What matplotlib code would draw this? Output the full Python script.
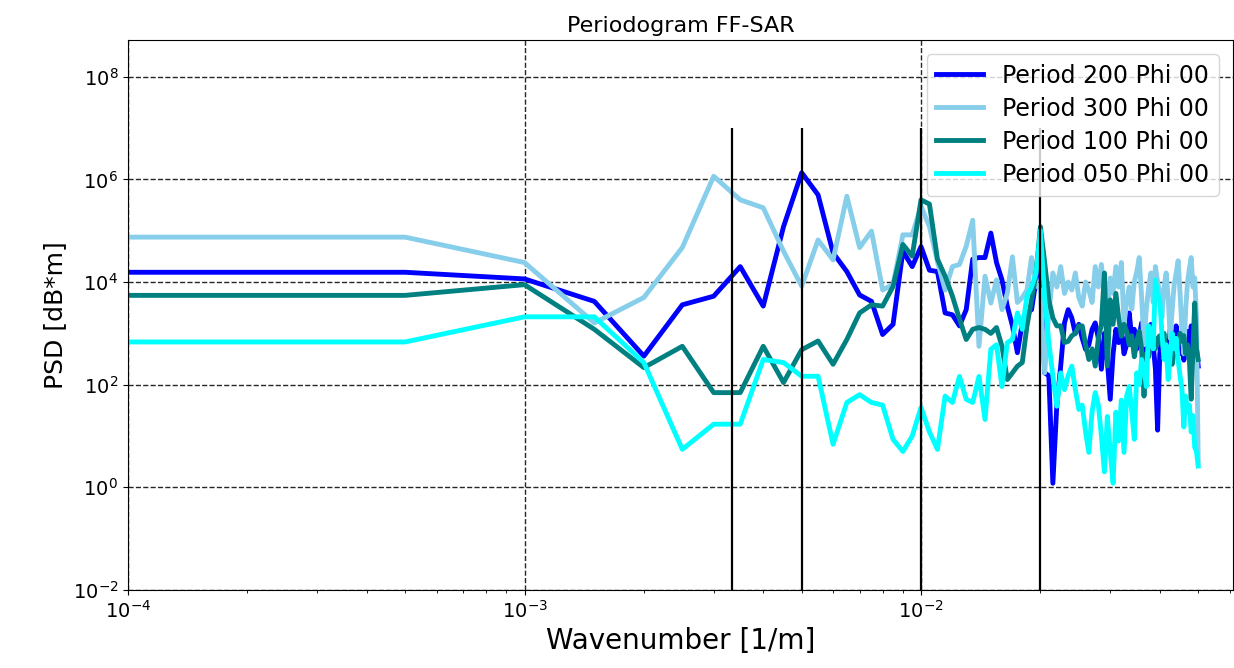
import numpy as np
import matplotlib
matplotlib.use('Agg')
import matplotlib.pyplot as plt
from matplotlib.ticker import NullLocator

# wavenumber axis: 0 ... 0.05 1/m, step 5e-4 (k=0 is the DC bin)
k = np.arange(101) * 0.0005

psd_200 = [1.5e4, 1.55e4, 1.15e4, 4.2e3, 3.6e2, 3.6e3, 5.3e3, 2.0e4, 3.4e3, 1.2e5,
           1.35e6, 5.0e5, 3.7e4, 1.6e4, 5.6e3, 4.2e3, 9.5e2, 1.5e3, 4.0e4, 2.0e4,
           4.9e4, 1.7e4, 1.6e4, 2.5e3, 2.3e3, 1.4e3, 2.9e3, 2.8e4, 3.0e4, 3.0e4,
           9.0e4, 2.4e4, 1.1e4, 3.4e3, 1.4e3, 4.2e2, 1.6e3, 2.5e3, 2.9e3, 1.1e4,
           5.0e4, 1.7e2, 1.5e2, 1.2, 40, 2.3e2, 1.6e3, 2.9e3, 2.0e3, 1.0e3,
           1.5e3, 8e2, 4.9e2, 6e2, 1.2e3, 1.6e3, 8e2, 2e2, 1.0e3, 3e2,
           52, 4e2, 1.2e3, 6.6e2, 1.2e3, 4e2, 6e2, 2.5e3, 8e2, 1.2e3,
           5e2, 9e2, 1.6e3, 7e2, 3e2, 8e2, 1.5e3, 6e2, 2e2, 13,
           4e2, 9e2, 7e2, 3e2, 5e2, 1.2e3, 9e2, 5e2, 1.4e3, 7e2,
           4e2, 8e2, 3e2, 6e2, 1.1e3, 4e2, 1.4e3, 8e2, 3e2, 5e2,
           2.3e2]

psd_300 = [7.3e4, 7.5e4, 2.4e4, 1.6e3, 5.0e3, 4.7e4, 1.15e6, 4.0e5, 2.8e5, 4.0e4,
           8.3e3, 6.6e4, 2.7e4, 4.7e5, 4.7e4, 9.8e4, 7e3, 9e3, 8.3e4, 8.3e4,
           3.0e5, 1.2e5, 2.5e4, 7e3, 2.0e4, 2.2e4, 5.0e4, 1.6e5, 5.6e2, 1.3e4,
           3.9e3, 1.1e4, 2.9e3, 6e3, 3.1e4, 4e3, 5e3, 7e3, 3.0e4, 9e3,
           7e3, 1.7e2, 2.5e3, 1.5e4, 8e3, 2.0e4, 6e3, 1.0e4, 7e3, 1.5e4,
           5e3, 3.4e3, 1.0e4, 7e3, 4e3, 2.0e4, 8e3, 2.2e4, 5e3, 3e3,
           1.2e4, 6e3, 2.0e4, 8e3, 2.4e4, 1.5e3, 4e3, 8e3, 3e3, 1.0e4,
           1.6e4, 3.0e4, 5e3, 6e2, 3e3, 8e3, 1.5e4, 4e3, 2.0e4, 1.0e4,
           6e3, 2e3, 8e3, 1.5e4, 5e3, 8e2, 3e3, 9e3, 1.5e4, 2.6e4,
           6e3, 1.2e3, 4e2, 3e3, 1.0e4, 1.8e4, 3.0e4, 8e3, 1.2e4, 2e3,
           3]

psd_100 = [5.4e3, 5.5e3, 8.9e3, 1.2e3, 2.15e2, 5.6e2, 70, 70, 5.6e2, 1.1e2,
           4.8e2, 7.1e2, 2.5e2, 7.6e2, 2.5e3, 3.6e3, 3.4e3, 8.2e3, 5.4e4, 3.2e4,
           4e5, 3.3e5, 2.8e4, 1.3e4, 5.3e3, 1.9e3, 7.6e2, 1.2e3, 1.3e3, 1.2e3,
           1.0e3, 1.3e3, 5.6e2, 1.26e2, 1.7e2, 2.3e2, 2.7e2, 1.4e3, 4.5e3, 1.5e4,
           1.2e5, 2.4e4, 4.5e3, 2e3, 1.4e3, 1.4e3, 6.6e2, 7e2, 9e2, 1.0e3,
           1.4e3, 1.4e3, 6e2, 3.1e2, 5e2, 2.3e2, 8e2, 1.5e3, 1.5e4, 2.3e2,
           4.5e3, 1.5e3, 6e3, 2e3, 8.8e2, 1.5e3, 1.1e3, 6e2, 9e2, 3.5e2,
           7e2, 1.1e3, 5e2, 60, 4e2, 3.5e2, 7e2, 9e2, 5e2, 8e2,
           9e2, 6e2, 1.0e3, 4e2, 3e2, 5e2, 2.5e2, 4.5e2, 7e2, 6e2,
           1.0e3, 7e2, 9e2, 4e2, 6e2, 3e2, 52, 5e2, 3.9e3, 5e2,
           3.1e2]

psd_050 = [6.7e2, 6.8e2, 2.1e3, 2.1e3, 2.7e2, 5.5, 17, 17, 3.1e2, 2.7e2,
           1.46e2, 1.46e2, 6.9, 45, 64, 45, 40, 8.6, 5, 10,
           36, 12, 5.5, 60, 45, 1.45e2, 52, 45, 1.45e2, 21,
           4.9e2, 6e2, 92, 6.6e2, 7.6e2, 2.5e3, 1.2e3, 5.3e3, 8e3, 1.5e4,
           1.0e5, 5e3, 6.6e2, 1.5e2, 38, 1.7e2, 80, 1.5e2, 2.3e2, 80,
           33, 40, 12, 4.8, 30, 70, 40, 10, 2, 24,
           5, 1.2, 29, 8, 50, 4.8, 60, 92, 30, 8.6,
           1.7e2, 1.0e2, 3.1e2, 2.0e2, 92, 1.4e3, 8e2, 5e2, 1.1e4, 6e3,
           4.5e3, 1.0e3, 3.1e2, 6e2, 1.26e2, 4e2, 1.0e3, 5e2, 8e2, 3e2,
           1.5e2, 80, 15, 60, 30, 40, 12, 25, 6, 5,
           2.6]

periods = [300, 200, 100, 50]

plt.figure(figsize=(12.34, 6.68), dpi=100)
ax = plt.axes([0.1037, 0.1168, 0.8955, 0.8233])

plt.loglog(k, psd_200, color='blue', lw=3.5, label='Period 200 Phi 00')
plt.loglog(k, psd_300, color='skyblue', lw=3.5, label='Period 300 Phi 00')
plt.loglog(k, psd_100, color='teal', lw=3.5, label='Period 100 Phi 00')
plt.loglog(k, psd_050, color='cyan', lw=3.5, label='Period 050 Phi 00')

# wavenumbers of the wave periods
plt.vlines([1 / p for p in periods], 1e-2, 1e7, colors='k', lw=1.6)

plt.xlim(1e-4, 0.0612)
plt.ylim(1e-2, 5.2e8)
ax.set_yticks([1e-2, 1e0, 1e2, 1e4, 1e6, 1e8])
ax.yaxis.set_minor_locator(NullLocator())
plt.grid(True, which='major', ls='--', color='k', lw=1, alpha=0.85)
plt.tick_params(labelsize=14)

plt.title('Periodogram FF-SAR', fontsize=16)
plt.xlabel('Wavenumber [1/m]', fontsize=20)
plt.ylabel('PSD [dB*m]', fontsize=18)
plt.legend(loc='upper right', fontsize=17, labelspacing=0.38, borderaxespad=0.6)

plt.savefig('out.png', dpi=100)
